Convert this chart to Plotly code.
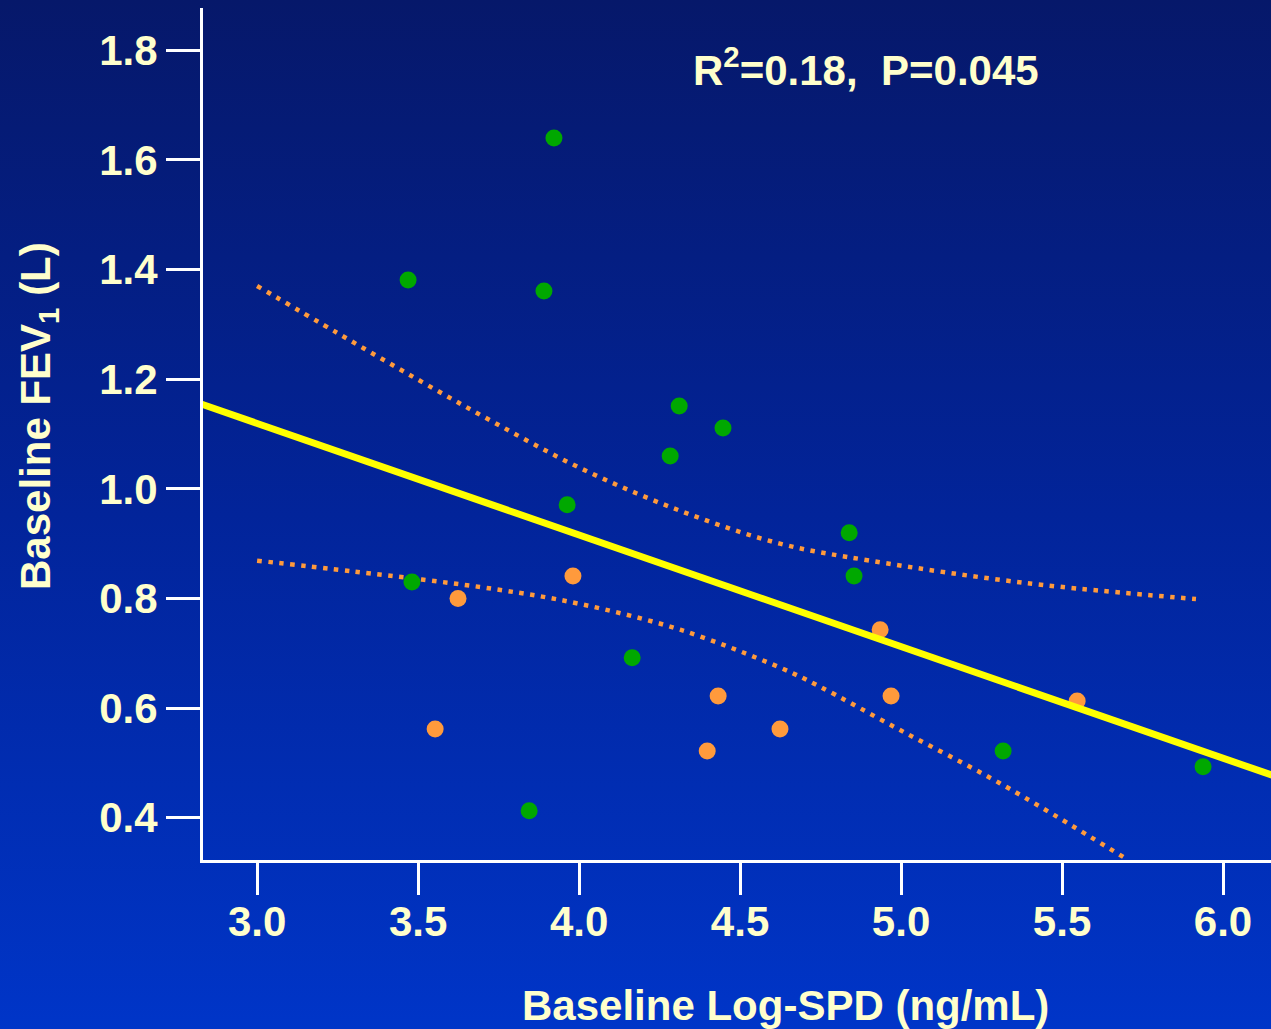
import base64
import plotly.graph_objects as go

# ---------------- data ----------------
green_x = [3.469, 3.922, 3.891, 4.311, 4.447, 4.283, 3.963, 4.839, 4.854, 3.481, 4.165, 5.317, 5.938, 3.845]
green_y = [1.381, 1.640, 1.361, 1.151, 1.111, 1.060, 0.971, 0.920, 0.841, 0.830, 0.692, 0.522, 0.493, 0.413]

orange_x = [3.981, 3.624, 3.553, 4.432, 4.398, 4.624, 4.935, 4.969, 5.547]
orange_y = [0.841, 0.800, 0.562, 0.622, 0.522, 0.562, 0.743, 0.622, 0.613]

fit_x = [2.80, 6.20]
fit_y = [1.160, 0.468]

upper_x = [3.000, 3.250, 3.500, 3.733, 4.003, 4.314, 4.624, 4.904, 5.391, 5.916]
upper_y = [1.370, 1.284, 1.199, 1.122, 1.038, 0.960, 0.900, 0.869, 0.828, 0.799]

lower_x = [3.000, 3.304, 3.739, 4.003, 4.314, 4.624, 4.742, 4.997, 5.307, 5.700]
lower_y = [0.869, 0.849, 0.817, 0.790, 0.743, 0.674, 0.641, 0.560, 0.463, 0.325]

x_ticks = [3.0, 3.5, 4.0, 4.5, 5.0, 5.5, 6.0]
y_ticks = [0.4, 0.6, 0.8, 1.0, 1.2, 1.4, 1.6, 1.8]

# ---------------- style ----------------
W, H = 1271, 1029
ML, MR, MT, MB = 203, 0, 8, 169
PW, PH = W - ML - MR, H - MT - MB
CREAM = "#FFFFCC"
FONT = "Liberation Sans, Arial, Helvetica, sans-serif"
FS = 42

svg = (
    f'<svg xmlns="http://www.w3.org/2000/svg" width="{W}" height="{H}" preserveAspectRatio="none">'
    '<defs><linearGradient id="g" x1="0" y1="0" x2="0" y2="1">'
    '<stop offset="0" stop-color="#06186a"/>'
    '<stop offset="0.5" stop-color="#02249a"/>'
    '<stop offset="1" stop-color="#0035c8"/>'
    '</linearGradient></defs>'
    f'<rect x="0" y="0" width="{W}" height="{H}" fill="url(#g)"/></svg>'
)
bg_src = "data:image/svg+xml;base64," + base64.b64encode(svg.encode()).decode()

fig = go.Figure()

fig.add_trace(go.Scatter(x=upper_x, y=upper_y, mode="lines",
                         line=dict(color="#FF9A3C", width=4.5, dash="4.5px,6.5px", shape="spline"),
                         hoverinfo="skip", showlegend=False))
fig.add_trace(go.Scatter(x=lower_x, y=lower_y, mode="lines",
                         line=dict(color="#FF9A3C", width=4.5, dash="4.5px,6.5px", shape="spline"),
                         hoverinfo="skip", showlegend=False))
fig.add_trace(go.Scatter(x=green_x, y=green_y, mode="markers",
                         marker=dict(color="#00A800", size=17, line=dict(width=0)),
                         showlegend=False))
fig.add_trace(go.Scatter(x=orange_x, y=orange_y, mode="markers",
                         marker=dict(color="#FF9A3C", size=17, line=dict(width=0)),
                         showlegend=False))
fig.add_trace(go.Scatter(x=fit_x, y=fit_y, mode="lines",
                         line=dict(color="#FFFF00", width=7),
                         hoverinfo="skip", showlegend=False))

axis_common = dict(
    showgrid=False, zeroline=False, showline=True, linecolor="white", linewidth=3,
    ticks="outside", tickcolor="white", tickwidth=3,
    tickfont=dict(family=FONT, size=FS, color=CREAM, weight="bold"),
    tickformat=".1f",
)

fig.update_layout(
    width=W, height=H,
    margin=dict(l=ML, r=MR, t=MT, b=MB, pad=0),
    paper_bgcolor="#0428a0", plot_bgcolor="rgba(0,0,0,0)",
    xaxis=dict(range=[2.832, 6.149], tickvals=x_ticks, ticklen=32,
               ticklabelstandoff=-9, **axis_common),
    yaxis=dict(range=[0.323, 1.877], tickvals=y_ticks, ticklen=34, **axis_common),
    images=[dict(source=bg_src, xref="paper", yref="paper",
                 x=-ML / PW, y=1 + MT / PH, sizex=W / PW, sizey=H / PH,
                 xanchor="left", yanchor="top", sizing="stretch", layer="below")],
    annotations=[
        dict(text="R<sup>2</sup>=0.18,  P=0.045", xref="paper", yref="paper",
             x=(866 - ML) / PW, y=1 - (67 - MT) / PH, showarrow=False,
             xanchor="center", yanchor="middle",
             font=dict(family=FONT, size=FS, color=CREAM, weight="bold")),
        dict(text="Baseline Log-SPD (ng/mL)", xref="paper", yref="paper",
             x=(785 - ML) / PW, y=1 - (1005 - MT) / PH, showarrow=False,
             xanchor="center", yanchor="middle",
             font=dict(family=FONT, size=FS, color=CREAM, weight="bold")),
        dict(text="Baseline FEV<sub>1</sub> (L)", xref="paper", yref="paper",
             x=(38 - ML) / PW, y=1 - (416 - MT) / PH, showarrow=False,
             textangle=-90, xanchor="center", yanchor="middle",
             font=dict(family=FONT, size=FS, color=CREAM, weight="bold")),
    ],
)

fig.write_html("out.html")
